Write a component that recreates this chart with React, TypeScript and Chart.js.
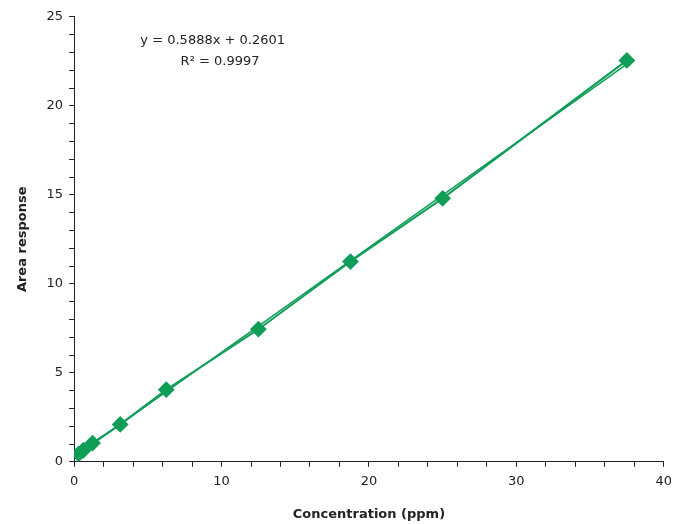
import React, { useEffect, useRef } from 'react'
import Chart from 'chart.js/auto'

const concentrations = [0.3125, 0.625, 1.25, 3.125, 6.25, 12.5, 18.75, 25, 37.5]
const areas = [0.45, 0.65, 1.05, 2.1, 4.05, 7.45, 11.25, 14.8, 22.55]
const slope = 0.5888
const intercept = 0.2601
const equationLines = ['y = 0.5888x + 0.2601', 'R² = 0.9997']
const green = '#0f9d58'

const App: React.FC = () => {
  const ref = useRef<HTMLCanvasElement | null>(null)

  useEffect(() => {
    document.body.style.overflow = 'hidden'
    if (!ref.current) return
    const xs = [concentrations[0], concentrations[concentrations.length - 1]]
    const trend = xs.map(x => ({ x, y: slope * x + intercept }))
    const chart = new Chart(ref.current, {
      type: 'scatter',
      data: {
        datasets: [
          {
            data: concentrations.map((x, i) => ({ x, y: areas[i] })),
            showLine: true,
            borderColor: green,
            backgroundColor: green,
            borderWidth: 2,
            pointStyle: 'rectRot',
            pointRadius: 7,
            pointHoverRadius: 7,
          },
          {
            data: trend,
            showLine: true,
            borderColor: green,
            borderWidth: 1.5,
            pointRadius: 0,
          },
        ],
      },
      options: {
        animation: false,
        responsive: false,
        layout: { padding: { top: 0, right: 0, left: 3, bottom: 0 } },
        plugins: { legend: { display: false }, tooltip: { enabled: false } },
        scales: {
          x: {
            min: 0, max: 40,
            ticks: {
              stepSize: 2, autoSkip: false, maxRotation: 0, color: '#222', padding: 7,
              font: { family: 'DejaVu Sans', size: 13 },
              callback: v => (Number(v) % 10 === 0 ? String(v) : ''),
            },
            grid: { drawOnChartArea: false, tickLength: 5, color: '#222' },
            border: { color: '#222' },
            title: { display: true, text: 'Concentration (ppm)', color: '#222', padding: { top: 10 }, font: { family: 'DejaVu Sans', size: 13, weight: 'bold' } },
          },
          y: {
            min: 0, max: 25,
            ticks: {
              stepSize: 1, autoSkip: false, color: '#222', padding: 6,
              font: { family: 'DejaVu Sans', size: 13 },
              callback: v => (Number(v) % 5 === 0 ? String(v) : ''),
            },
            grid: { drawOnChartArea: false, tickLength: 5, color: '#222' },
            border: { color: '#222' },
            title: { display: true, text: 'Area response', color: '#222', padding: { bottom: 10 }, font: { family: 'DejaVu Sans', size: 13, weight: 'bold' } },
          },
        },
      },
      plugins: [{
        id: 'equation',
        afterDraw: c => {
          const ctx = c.ctx
          const xs = c.scales.x, ys = c.scales.y
          ctx.save()
          ctx.fillStyle = '#222'
          ctx.font = '13px "DejaVu Sans"'
          ctx.textAlign = 'center'
          ctx.fillText(equationLines[0], xs.getPixelForValue(9.4), ys.getPixelForValue(23.5))
          ctx.fillText(equationLines[1], xs.getPixelForValue(9.9), ys.getPixelForValue(22.3))
          ctx.restore()
        },
      }],
    })
    return () => chart.destroy()
  }, [])

  return <canvas ref={ref} width={671} height={523} style={{ display: 'block', marginTop: -5 }} />
}

export default App
